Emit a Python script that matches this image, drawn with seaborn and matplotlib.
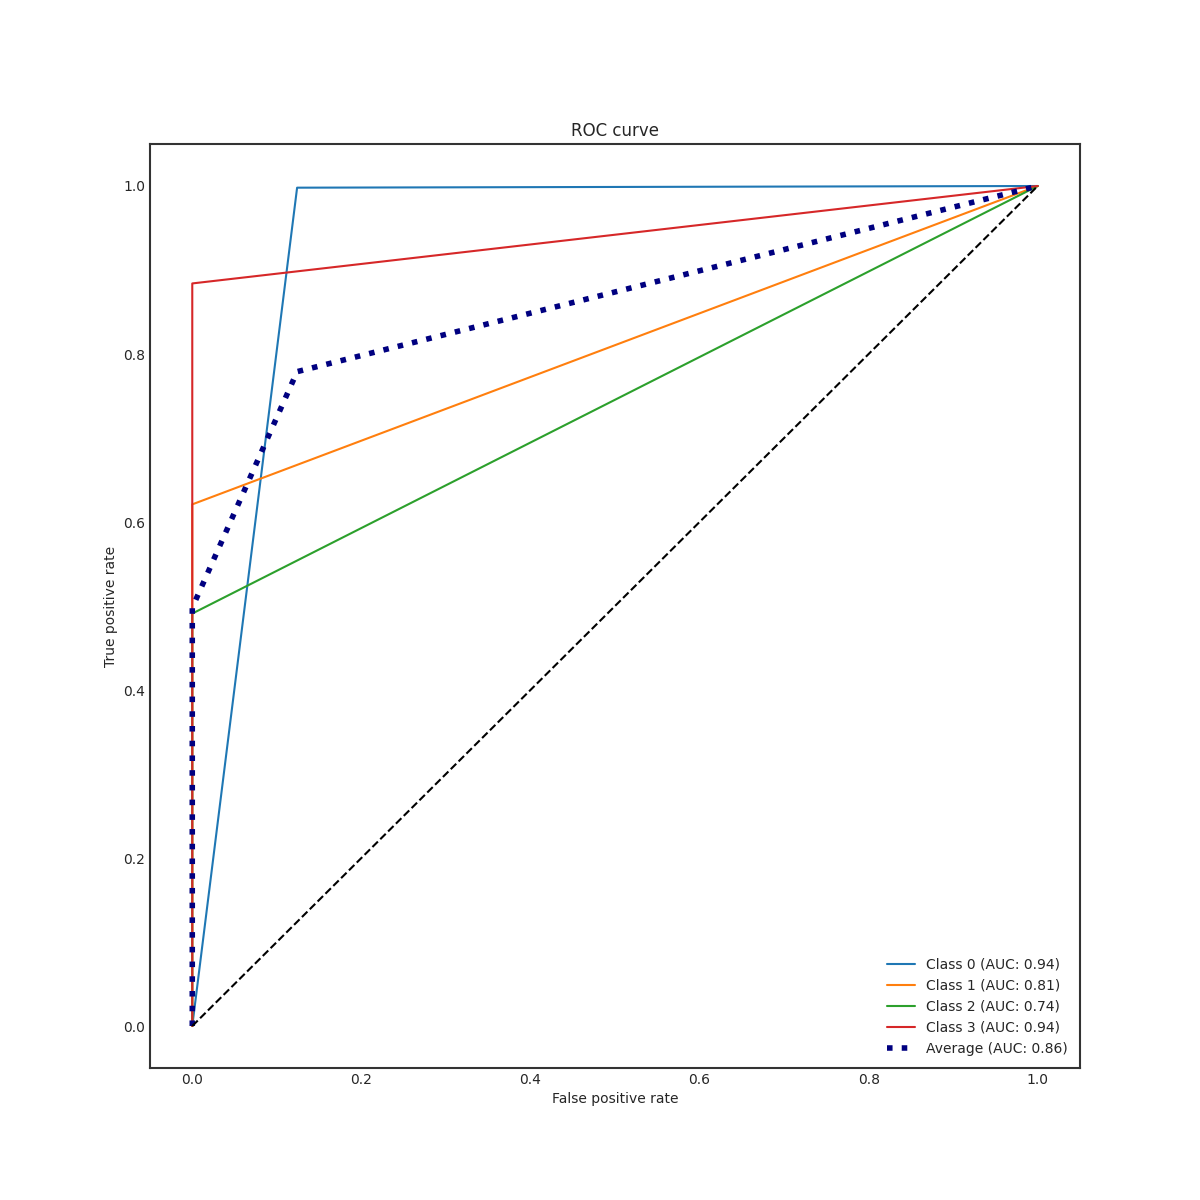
import matplotlib
matplotlib.use("Agg")
import matplotlib.pyplot as plt
import seaborn as sns

# ROC points
fpr_class0 = [0.0, 0.124, 1.0]
tpr_class0 = [0.0, 0.998, 1.0]
fpr_class1 = [0.0, 0.0, 1.0]
tpr_class1 = [0.0, 0.621, 1.0]
fpr_class2 = [0.0, 0.0, 1.0]
tpr_class2 = [0.0, 0.491, 1.0]
fpr_class3 = [0.0, 0.0, 1.0]
tpr_class3 = [0.0, 0.884, 1.0]
fpr_avg = [0.0, 0.0, 0.124, 1.0]
tpr_avg = [0.0, 0.498, 0.779, 1.0]
auc_scores = [0.94, 0.81, 0.74, 0.94]
auc_avg = 0.86

sns.set_style("white", {"xtick.major.size": 0, "ytick.major.size": 0})
plt.rcParams["axes.linewidth"] = 1.5
plt.rcParams["axes.edgecolor"] = "0.2"
plt.rcParams["xtick.major.size"] = 0
plt.rcParams["ytick.major.size"] = 0

fig, ax = plt.subplots(figsize=(12, 12), dpi=100)

curves = [(fpr_class0, tpr_class0), (fpr_class1, tpr_class1),
          (fpr_class2, tpr_class2), (fpr_class3, tpr_class3)]
colors = sns.color_palette("tab10", 4)
for i, (fpr, tpr) in enumerate(curves):
    sns.lineplot(x=fpr, y=tpr, sort=False, estimator=None, color=colors[i],
                 linewidth=1.5, label=f"Class {i} (AUC: {auc_scores[i]:.2f})", ax=ax)

sns.lineplot(x=fpr_avg, y=tpr_avg, sort=False, estimator=None, color="navy",
             linestyle=":", linewidth=4, label=f"Average (AUC: {auc_avg:.2f})", ax=ax)

ax.plot([0, 1], [0, 1], "k--", linewidth=1.5)

ax.set_title("ROC curve")
ax.set_xlabel("False positive rate")
ax.set_ylabel("True positive rate")
ax.legend(loc="lower right", frameon=False)

plt.savefig("out.png")
plt.close()
